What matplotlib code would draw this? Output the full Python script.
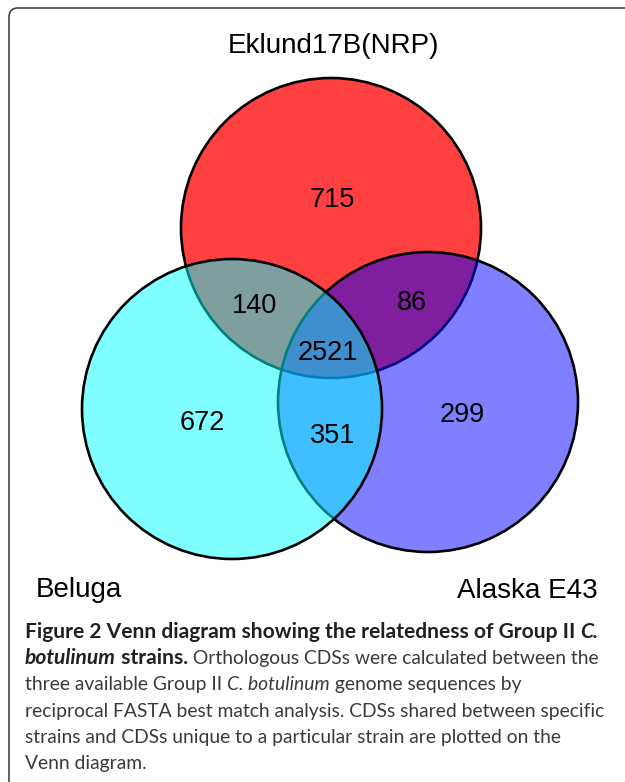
import matplotlib
matplotlib.use('Agg')
import matplotlib.pyplot as plt
from matplotlib.patches import Circle, FancyBboxPatch

# Venn counts (orthologous CDSs)
strains = ['Eklund17B(NRP)', 'Beluga', 'Alaska E43']
region_names = ['Eklund17B only', 'Eklund17B & Beluga', 'Eklund17B & Alaska',
                'all three', 'Beluga only', 'Beluga & Alaska', 'Alaska only']
region_counts = [715, 140, 86, 2521, 672, 351, 299]

# layout in pixel coordinates (y grows downwards)
circle_centers = [(331, 228), (232, 409), (428, 402)]
circle_radius = 150
circle_colors = [(1, 0, 0, 0.75), (0, 1, 1, 0.5), (0, 0, 1, 0.5)]
draw_order = [0, 2, 1]  # red, blue, cyan
count_pos = [(332, 207), (254, 313), (412, 310), (328, 360),
             (202, 430), (333, 443), (462, 422)]
label_pos = [(334, 53, 'center'), (36, 597, 'left'), (598, 598, 'right')]

caption_lines = [
    [("Figure 2 Venn diagram showing the relatedness of Group II ", 'bold', 'normal'),
     ("C.", 'bold', 'italic')],
    [("botulinum", 'bold', 'italic'), (" strains.", 'bold', 'normal'),
     (" Orthologous CDSs were calculated between the", 'normal', 'normal')],
    [("three available Group II ", 'normal', 'normal'),
     ("C. botulinum", 'normal', 'italic'),
     (" genome sequences by", 'normal', 'normal')],
    [("reciprocal FASTA best match analysis. CDSs shared between specific", 'normal', 'normal')],
    [("strains and CDSs unique to a particular strain are plotted on the", 'normal', 'normal')],
    [("Venn diagram.", 'normal', 'normal')],
]

W, H = 625, 782
fig = plt.figure(figsize=(W / 100, H / 100), dpi=100)
ax = fig.add_axes([0, 0, 1, 1])
ax.set_xlim(0, W)
ax.set_ylim(H, 0)
ax.axis('off')

# outer frame
frame = FancyBboxPatch((9, 8), 660, 820, boxstyle='round,pad=0,rounding_size=9',
                       facecolor='none', edgecolor='#444444', linewidth=1.2)
ax.add_patch(frame)

for i in draw_order:
    ax.add_patch(Circle(circle_centers[i], circle_radius, facecolor=circle_colors[i],
                        edgecolor='black', linewidth=1.9))

label_font = ['Liberation Sans', 'DejaVu Sans']
for (x, y), n in zip(count_pos, region_counts):
    ax.text(x, y, str(n), ha='center', va='baseline', fontsize=19.5,
            family=label_font, color='black')

for (x, y, ha), name in zip(label_pos, strains):
    ax.text(x, y, name, ha=ha, va='baseline', fontsize=20, family=label_font,
            color='black')

# caption, pieced together so that bold/italic runs sit on one baseline
cap_font = ['Lato', 'DejaVu Sans']
renderer = fig.canvas.get_renderer()


def fit_size(text, weight, target):
    probe = ax.text(0, 0, text, fontsize=14, family=cap_font, fontweight=weight)
    w = probe.get_window_extent(renderer).width
    probe.remove()
    return 14 * target / w


sizes = {'normal': fit_size(caption_lines[3][0][0], 'normal', 582),
         'bold': fit_size(caption_lines[0][0][0] + 'C.', 'bold', 577)}

x0, y0, dy = 25, 638, 26.2
for k, line in enumerate(caption_lines):
    x = x0
    for txt, weight, style in line:
        color = '#231f20' if weight == 'bold' else '#3a3a3a'
        t = ax.text(x, y0 + k * dy, txt, ha='left', va='baseline', fontsize=sizes[weight],
                    family=cap_font, fontweight=weight, fontstyle=style, color=color)
        x += t.get_window_extent(renderer).width

fig.savefig('out.png', dpi=100)
